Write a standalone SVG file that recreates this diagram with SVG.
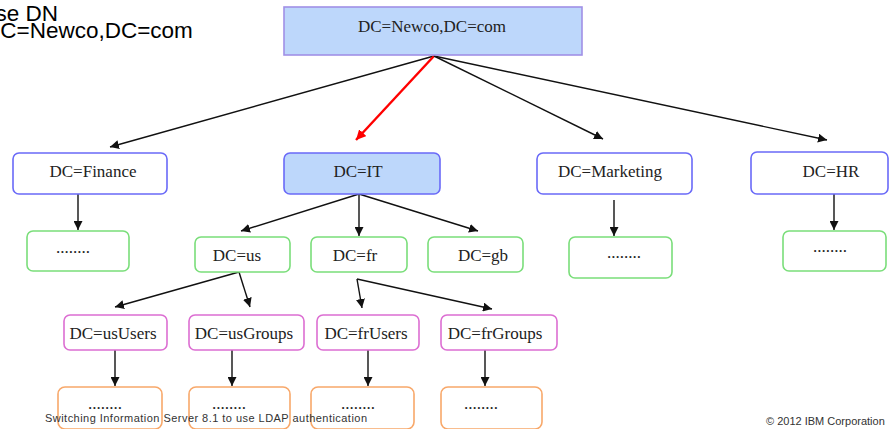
<svg xmlns="http://www.w3.org/2000/svg" width="896" height="429" viewBox="0 0 896 429">
<style>
.t{font-family:"Liberation Serif","Times New Roman",serif;font-size:17px;fill:#222;text-anchor:middle}
.h{font-family:"Liberation Sans",Arial,sans-serif;font-size:22.5px;fill:#000}
.f{font-family:"Liberation Sans",Arial,sans-serif;font-size:11px;fill:#333}
.blue{fill:#fff;stroke:#6a6af8;stroke-width:1.6}
.bluef{fill:#bdd7fb;stroke:#6a6af8;stroke-width:1.6}
.green{fill:#fff;stroke:#7ade7a;stroke-width:1.6}
.pink{fill:#fff;stroke:#dc6ed2;stroke-width:1.6}
.orange{fill:#fff;stroke:#f8a86a;stroke-width:1.6}
.c{stroke:#111;stroke-width:1.4;fill:none;marker-end:url(#ah)}
</style>
<defs>
<marker id="ah" viewBox="0 0 10 10" refX="10" refY="5" markerWidth="9" markerHeight="9" markerUnits="userSpaceOnUse" orient="auto">
<path d="M0,0L10,5L0,10z" fill="#111"/>
</marker>
<marker id="ahr" viewBox="0 0 10 10" refX="10" refY="5" markerWidth="10" markerHeight="10" markerUnits="userSpaceOnUse" orient="auto">
<path d="M0,0L10,5L0,10z" fill="#f00"/>
</marker>
</defs>
<rect width="896" height="429" fill="#fff"/>
<text class="h" x="-32" y="20.5">Base DN</text>
<text class="h" x="-16" y="37.5">DC=Newco,DC=com</text>
<g id="connectors">
<line class="c" x1="434" y1="56" x2="110" y2="147"/>
<line x1="434" y1="56" x2="356" y2="140" stroke="#f00" stroke-width="2.4" marker-end="url(#ahr)"/>
<line class="c" x1="434" y1="56" x2="603" y2="139"/>
<line class="c" x1="434" y1="56" x2="827" y2="140"/>
<line class="c" x1="78" y1="194" x2="78" y2="230"/>
<line class="c" x1="359" y1="194" x2="241" y2="231"/>
<line class="c" x1="359" y1="194" x2="359" y2="236"/>
<line class="c" x1="359" y1="194" x2="478" y2="231"/>
<line class="c" x1="614" y1="200" x2="614" y2="236"/>
<line class="c" x1="834" y1="194" x2="834" y2="230"/>
<line class="c" x1="239" y1="272" x2="115" y2="307"/>
<line class="c" x1="239" y1="272" x2="250" y2="307"/>
<line class="c" x1="357" y1="279" x2="362" y2="308"/>
<line class="c" x1="357" y1="279" x2="492" y2="309"/>
<line class="c" x1="115" y1="350" x2="115" y2="386"/>
<line class="c" x1="232" y1="350" x2="232" y2="386"/>
<line class="c" x1="368" y1="350" x2="368" y2="386"/>
<line class="c" x1="485" y1="350" x2="485" y2="386"/>
</g>
<g id="root"><rect x="284" y="7" width="298" height="48" fill="#bdd7fb" stroke="#a090e6" stroke-width="1.6"/><text class="t" x="432" y="32">DC=Newco,DC=com</text></g>
<g id="finance"><rect class="blue" x="13" y="153" width="154" height="41" rx="6"/><text class="t" x="93" y="177">DC=Finance</text></g>
<g id="it"><rect class="bluef" x="284" y="153" width="156" height="41" rx="6"/><text class="t" x="358" y="177">DC=IT</text></g>
<g id="marketing"><rect class="blue" x="537" y="153" width="155" height="41" rx="6"/><text class="t" x="610" y="177">DC=Marketing</text></g>
<g id="hr"><rect class="blue" x="751" y="152" width="137" height="42" rx="6"/><text class="t" x="831" y="177">DC=HR</text></g>
<g id="finance-child"><rect class="green" x="27" y="231" width="102" height="40" rx="6"/><text class="t" x="73" y="253">........</text></g>
<g id="us"><rect class="green" x="195" y="237" width="95" height="35" rx="6"/><text class="t" x="237" y="261">DC=us</text></g>
<g id="fr"><rect class="green" x="311" y="237" width="96" height="35" rx="6"/><text class="t" x="355" y="261">DC=fr</text></g>
<g id="gb"><rect class="green" x="428" y="237" width="95" height="35" rx="6"/><text class="t" x="483" y="261">DC=gb</text></g>
<g id="marketing-child"><rect class="green" x="569" y="237" width="103" height="41" rx="6"/><text class="t" x="624" y="258">........</text></g>
<g id="hr-child"><rect class="green" x="783" y="231" width="103" height="40" rx="6"/><text class="t" x="830" y="252">........</text></g>
<g id="usUsers"><rect class="pink" x="64" y="315" width="103" height="35" rx="6"/><text class="t" x="113" y="339">DC=usUsers</text></g>
<g id="usGroups"><rect class="pink" x="189" y="315" width="115" height="35" rx="6"/><text class="t" x="244" y="339">DC=usGroups</text></g>
<g id="frUsers"><rect class="pink" x="317" y="315" width="102" height="35" rx="6"/><text class="t" x="366" y="339">DC=frUsers</text></g>
<g id="frGroups"><rect class="pink" x="441" y="315" width="116" height="35" rx="6"/><text class="t" x="495" y="339">DC=frGroups</text></g>
<g id="usUsers-child"><rect class="orange" x="58" y="387" width="104" height="42" rx="7"/><text class="t" x="105" y="409">........</text></g>
<g id="usGroups-child"><rect class="orange" x="189" y="387" width="101" height="42" rx="7"/><text class="t" x="229" y="409">........</text></g>
<g id="frUsers-child"><rect class="orange" x="311" y="387" width="103" height="42" rx="7"/><text class="t" x="358" y="409">........</text></g>
<g id="frGroups-child"><rect class="orange" x="441" y="387" width="101" height="42" rx="7"/><text class="t" x="481" y="409">........</text></g>
<text class="f" x="45" y="422" textLength="322">Switching Information Server 8.1 to use LDAP authentication</text>
<text class="f" x="766" y="425">© 2012 IBM  Corporation</text>
</svg>
